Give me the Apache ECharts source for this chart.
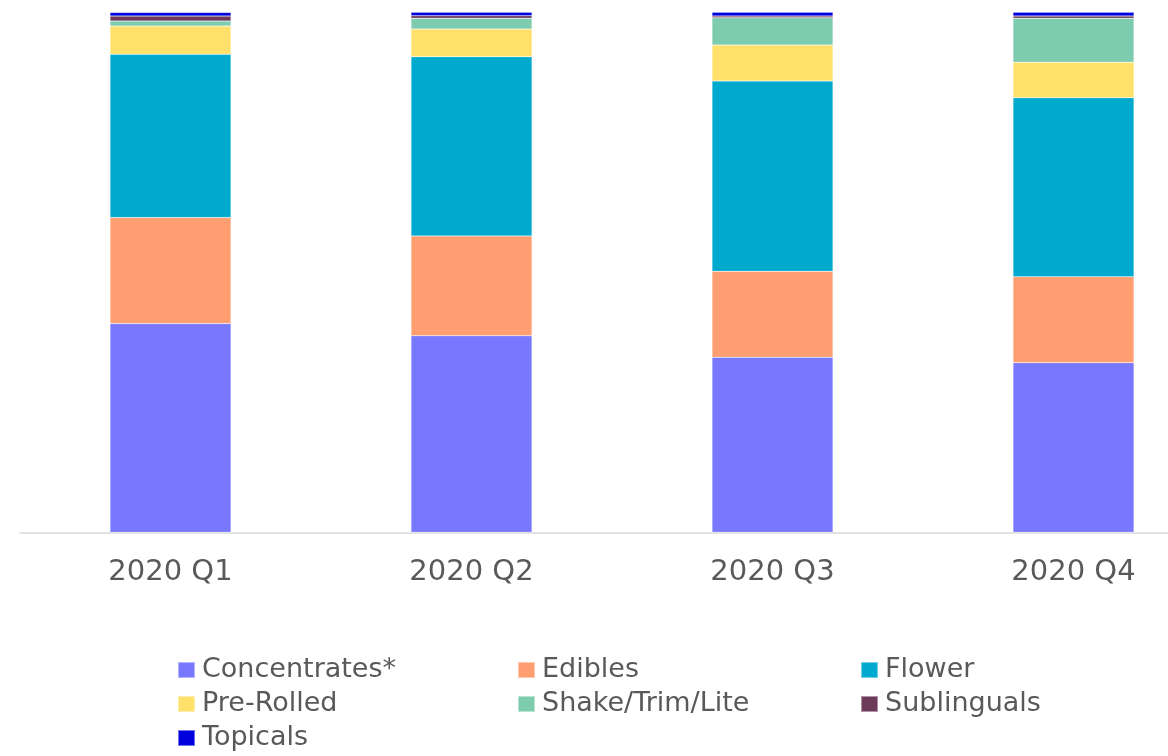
<!DOCTYPE html>
<html>
<head>
<meta charset="utf-8">
<style>
  html, body { margin: 0; padding: 0; background: #fff; }
  #chart { width: 1168px; height: 756px; }
</style>
<script src="https://cdn.jsdelivr.net/npm/echarts@6/dist/echarts.min.js"></script>
</head>
<body>
<div id="chart"></div>
<script>
// Quarterly share of sales by product category (percent of total)
const quarters = ['2020 Q1', '2020 Q2', '2020 Q3', '2020 Q4'];

const concentrates = [40.15, 37.81, 33.65, 32.62];
const edibles      = [20.38, 19.17, 16.54, 16.54];
const flower       = [31.38, 34.48, 36.60, 34.42];
const preRolled    = [5.44, 5.33, 6.92, 6.81];
const shakeTrim    = [0.96, 2.06, 5.25, 8.46];
const sublinguals  = [0.96, 0.50, 0.33, 0.44];
const topicals     = [0.71, 0.65, 0.71, 0.71];

const seriesDefs = [
  { name: 'Concentrates*',     data: concentrates, color: '#7878FF' },
  { name: 'Edibles',           data: edibles,      color: '#FF9E70' },
  { name: 'Flower',            data: flower,       color: '#00AACF' },
  { name: 'Pre-Rolled',        data: preRolled,    color: '#FFE06B' },
  { name: 'Shake/Trim/Lite',   data: shakeTrim,    color: '#7ECCB0' },
  { name: 'Sublinguals',       data: sublinguals,  color: '#6E3A5A' },
  { name: 'Topicals',          data: topicals,     color: '#0000DD' }
];

const textColor = '#595959';
const fontFamily = 'DejaVu Sans';

function legendColumn(left, names) {
  return {
    orient: 'vertical',
    left: left,
    top: 656,
    height: 120,
    padding: 0,
    itemWidth: 17,
    itemHeight: 16,
    itemGap: 6,
    icon: 'rect',
    selectedMode: false,
    data: names,
    textStyle: { color: textColor, fontSize: 27, lineHeight: 28, fontFamily: fontFamily, padding: [0, 0, 0, 2] }
  };
}

const chart = echarts.init(document.getElementById('chart'), null, { renderer: 'canvas' });

chart.setOption({
  animation: false,
  backgroundColor: '#ffffff',
  grid: { left: 20, width: 1204, top: 12.3, bottom: 223.7, containLabel: false, outerBoundsMode: 'none' },
  legend: [
    legendColumn(177, ['Concentrates*', 'Pre-Rolled', 'Topicals']),
    legendColumn(517, ['Edibles', 'Shake/Trim/Lite']),
    legendColumn(860, ['Flower', 'Sublinguals'])
  ],
  xAxis: {
    type: 'category',
    data: quarters,
    axisLine: { show: true, lineStyle: { color: '#d9d9d9', width: 1.5 } },
    axisTick: { show: false },
    axisLabel: { color: textColor, fontSize: 29, fontFamily: fontFamily, margin: 26 }
  },
  yAxis: {
    type: 'value',
    min: 0,
    max: 100,
    show: false,
    splitLine: { show: false }
  },
  series: seriesDefs.map(s => ({
    name: s.name,
    type: 'bar',
    stack: 'share',
    barWidth: 121,
    data: s.data,
    itemStyle: { color: s.color, borderColor: 'rgba(255,255,255,0.45)', borderWidth: 0.5 },
    emphasis: { disabled: true }
  }))
});
</script>
</body>
</html>
